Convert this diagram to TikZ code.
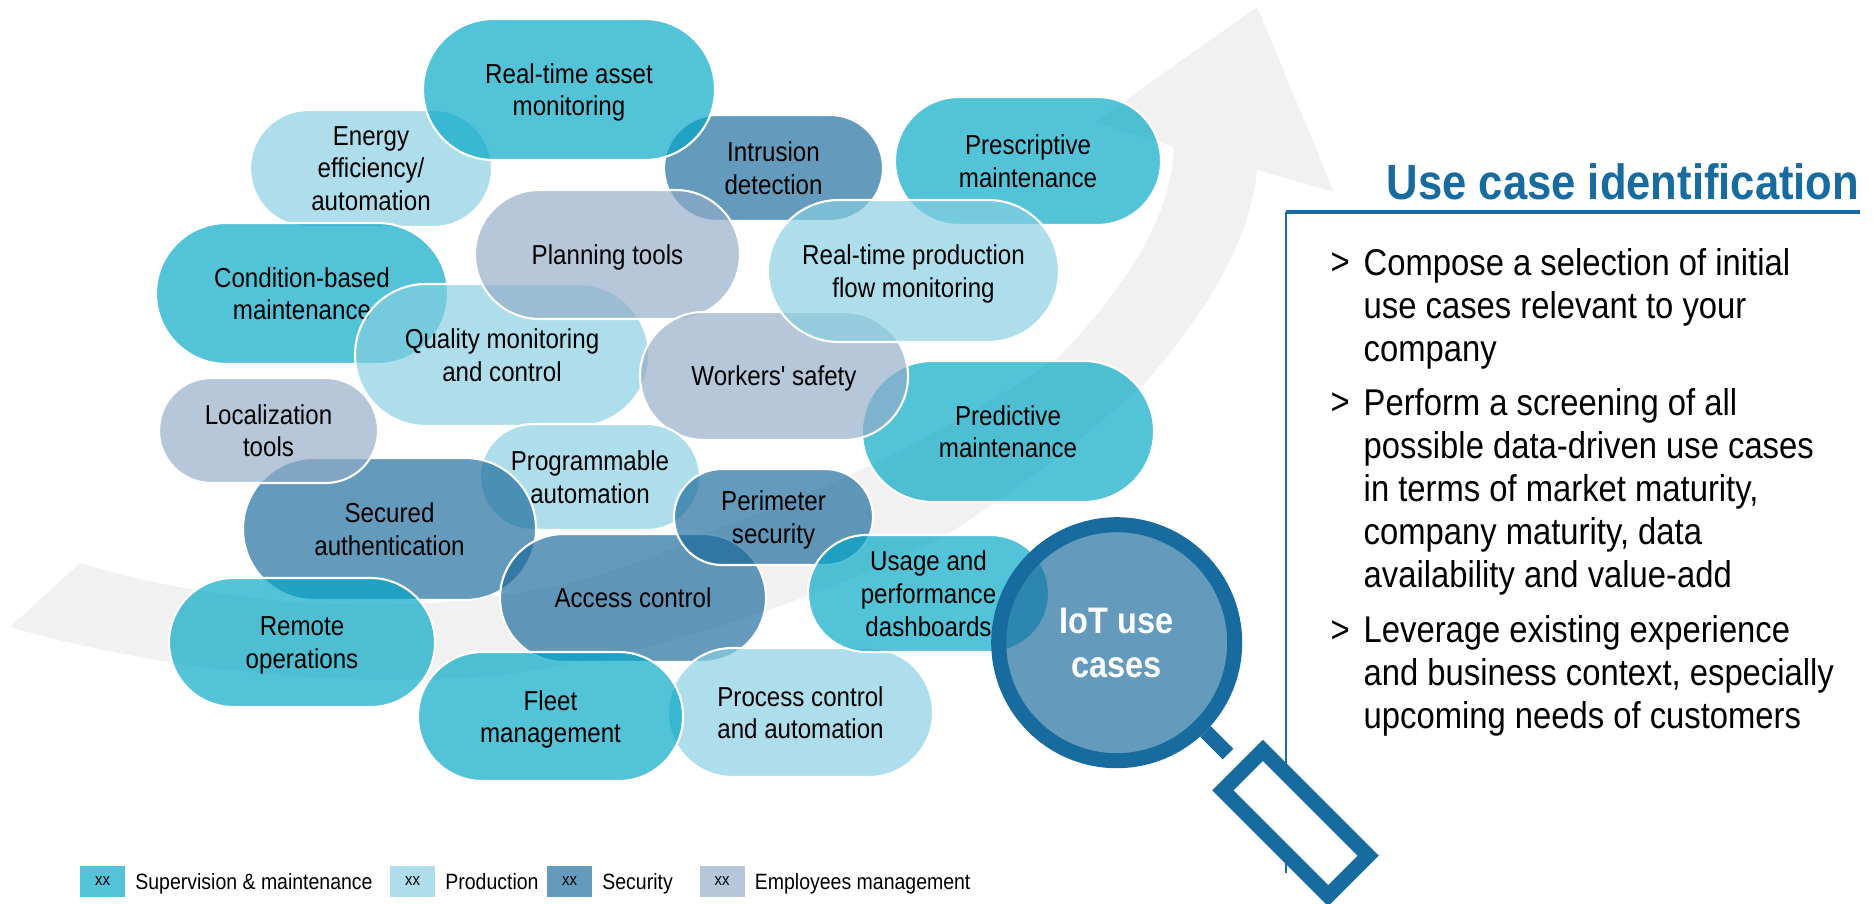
\documentclass[tikz,border=0pt]{standalone}
\usepackage{fontspec}
\setmainfont[FakeStretch=0.88,Ligatures=TeXOff]{Liberation Sans}
\usetikzlibrary{positioning}
\definecolor{casecyan}{RGB}{2,166,198}
\definecolor{casepale}{RGB}{135,207,225}
\definecolor{caseblue}{RGB}{27,106,156}
\definecolor{casegrey}{RGB}{147,172,200}
\definecolor{ringblue}{RGB}{23,107,159}
\definecolor{arrowgrey}{RGB}{241,241,241}
\begin{document}
\begin{tikzpicture}
		[case/.style 2 args={rectangle, draw=white, line width=0.6pt, fill opacity=0.68, text opacity=1, align=center, inner sep=0pt, text depth=0pt,
		minimum width=#1, minimum height=#2, rounded corners=0.499*#2, font=\fontsize{7.8}{9.3}\selectfont},
		supervision/.style={fill=casecyan},
		production/.style={fill=casepale},
		security/.style={fill=caseblue},
		employees/.style={fill=casegrey},
		legendbox/.style={rectangle, fill opacity=0.68, text opacity=1, minimum width=0.45cm, minimum height=0.31cm, inner sep=0pt, font=\fontsize{4.8}{5.8}\selectfont},
		legendtext/.style={right=0.09cm of #1, inner sep=0pt, text height=0.165cm, text depth=0pt, font=\fontsize{6.3}{7.6}\selectfont},
		ring/.style={draw=ringblue, line width=0.15cm},
		rule/.style={draw=ringblue, line width=0.8pt},
		bodytext/.style={inner sep=0pt, align=left, font=\fontsize{10.6}{12.2}\selectfont}]
		\useasboundingbox (0,0) rectangle (18.74,9.03);

		% grey arrow behind the cases
		\fill[arrowgrey] (0.80,3.40) .. controls (2.60,2.85) and (5.20,2.75) .. (7.0,3.68)
		.. controls (8.4,4.15) and (9.7,4.85) .. (10.59,5.46)
		.. controls (11.30,6.20) and (11.72,6.90) .. (11.74,7.56)
		-- (10.95,7.81) -- (12.57,8.96) -- (13.34,7.11) -- (12.57,7.33)
		.. controls (12.50,6.60) and (12.05,5.90) .. (11.45,5.20)
		.. controls (10.90,4.70) and (10.40,4.30) .. (9.5,3.70)
		.. controls (8.6,3.25) and (7.0,2.55) .. (5.0,2.28)
		.. controls (3.5,2.15) and (1.7,2.30) .. (0.10,2.76) -- cycle;

		% use cases, back to front
		\node[case={2.66cm}{1.28cm}, supervision] (prescriptive) at (10.28,7.42) {Prescriptive\\maintenance};
		\node[case={2.92cm}{1.41cm}, supervision] (predictive) at (10.08,4.715) {Predictive\\maintenance};
		\node[case={2.42cm}{1.17cm}, production] (energy) at (3.71,7.345) {Energy\\efficiency/\\automation};
		\node[case={2.92cm}{1.41cm}, supervision] (condition) at (3.02,6.095) {Condition-based\\maintenance};
		\node[case={2.19cm}{1.06cm}, security] (intrusion) at (7.735,7.35) {Intrusion\\detection};
		\node[case={2.92cm}{1.41cm}, supervision] (asset) at (5.69,8.135) {Real-time asset\\monitoring};
		\node[case={2.94cm}{1.42cm}, production] (quality) at (5.02,5.48) {Quality monitoring\\and control};
		\node[case={2.65cm}{1.29cm}, employees] (planning) at (6.075,6.485) {Planning tools};
		\node[case={2.68cm}{1.28cm}, employees] (workers) at (7.74,5.27) {Workers' safety};
		\node[case={2.91cm}{1.42cm}, production] (flow) at (9.135,6.32) {Real-time production\\flow monitoring};
		\node[case={2.20cm}{1.06cm}, production] (programmable) at (5.90,4.26) {Programmable\\automation};
		\node[case={2.93cm}{1.42cm}, security] (secured) at (3.895,3.74) {Secured\\authentication};
		\node[case={2.19cm}{1.05cm}, employees] (localization) at (2.685,4.725) {Localization\\tools};
		\node[case={2.66cm}{1.29cm}, supervision] (remote) at (3.02,2.605) {Remote\\operations};
		\node[case={2.66cm}{1.28cm}, security] (access) at (6.33,3.05) {Access control};
		\node[case={2.65cm}{1.29cm}, production] (process) at (8.005,1.905) {Process control\\and automation};
		\node[case={1.99cm}{0.96cm}, security] (perimeter) at (7.735,3.86) {Perimeter\\security};
		\node[case={2.41cm}{1.17cm}, supervision] (usage) at (9.285,3.095) {Usage and\\performance\\dashboards};
		\node[case={2.65cm}{1.29cm}, supervision] (fleet) at (5.505,1.865) {Fleet\\management};

		% text panel
		\coordinate (paneltop) at (12.86,6.91);
		\coordinate (panelright) at (18.60,6.91);
		\coordinate (panelfoot) at (12.86,0.30);
		\draw[rule, line width=1pt] (paneltop) -- (panelright);
		\draw[rule] (paneltop) -- (panelfoot);
		\node[anchor=base east, inner sep=0pt, text=ringblue, font=\fontsize{14.1}{17}\selectfont\bfseries] (title) at (18.60,7.03) {Use case identification};

		\node[bodytext, anchor=base west] (composemark) at (13.30,6.28) {>};
		\node[bodytext, anchor=north west] (compose) at (13.63,6.55) {Compose a selection of initial\\use cases relevant to your\\company};
		\node[bodytext, anchor=base west] (performmark) at (13.30,4.88) {>};
		\node[bodytext, anchor=north west] (perform) at (13.63,5.15) {Perform a screening of all\\possible data-driven use cases\\in terms of market maturity,\\company maturity, data\\availability and value-add};
		\node[bodytext, anchor=base west] (leveragemark) at (13.30,2.61) {>};
		\node[bodytext, anchor=north west] (leverage) at (13.63,2.88) {Leverage existing experience\\and business context, especially\\upcoming needs of customers};

		% magnifier
		\node[circle, ring, fill=caseblue, fill opacity=0.68, draw opacity=1, text opacity=1, minimum size=2.36cm, inner sep=0pt, align=center, text=white,
		font=\fontsize{10.5}{12.5}\selectfont\bfseries] (lens) at (11.167,2.603) {IoT use\\cases};
		\coordinate (stemend) at (12.28,1.49);
		\draw[ring] (lens.-45) -- (stemend);
		\node[rectangle, ring, fill=white, rotate=-45, minimum width=1.49cm, minimum height=0.566cm] (handle) at (12.955,0.80) {};

		% legend
		\node[legendbox, fill=casecyan] (legendsupervision) at (1.025,0.215) {xx};
		\node[legendtext=legendsupervision] (labelsupervision) {Supervision \& maintenance};
		\node[legendbox, fill=casepale] (legendproduction) at (4.125,0.215) {xx};
		\node[legendtext=legendproduction] (labelproduction) {Production};
		\node[legendbox, fill=caseblue] (legendsecurity) at (5.695,0.215) {xx};
		\node[legendtext=legendsecurity] (labelsecurity) {Security};
		\node[legendbox, fill=casegrey] (legendemployees) at (7.22,0.215) {xx};
		\node[legendtext=legendemployees] (labelemployees) {Employees management};
	\end{tikzpicture}
\end{document}
